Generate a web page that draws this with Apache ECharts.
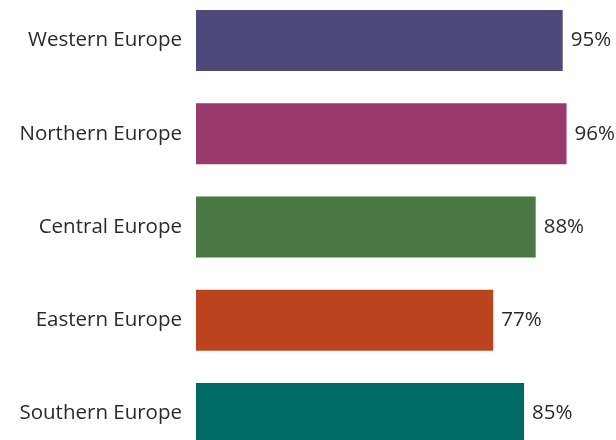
<!DOCTYPE html>
<html>
<head>
<meta charset="utf-8">
<script src="https://cdn.jsdelivr.net/npm/echarts@6/dist/echarts.min.js"></script>
<style>html,body{margin:0;padding:0;background:#fff}#c{width:616px;height:440px}</style>
</head>
<body>
<div id="c"></div>
<script>
const categories = ["Western Europe", "Northern Europe", "Central Europe", "Eastern Europe", "Southern Europe"];
const values = [95, 96, 88, 77, 85];
const colors = ["#4d4a7b", "#9a396d", "#4a7842", "#bb431d", "#006b64"];

const chart = echarts.init(document.getElementById('c'), null, {renderer: 'canvas'});
chart.setOption({
  animation: false,
  grid: {left: 196, top: -6, width: 386, height: 466, outerBoundsMode: 'none', containLabel: false},
  xAxis: {type: 'value', min: 0, max: 100, show: false},
  yAxis: {
    type: 'category', data: categories, inverse: true,
    axisLine: {show: false}, axisTick: {show: false},
    axisLabel: {color: '#2a2a2a', fontFamily: 'Open Sans', fontSize: 20.5, margin: 14}
  },
  series: [{
    type: 'bar',
    barWidth: 61,
    data: values.map((v, i) => ({value: v, itemStyle: {color: colors[i]}})),
    label: {show: true, position: 'right', distance: 8, formatter: '{c}%', color: '#2a2a2a', fontFamily: 'Open Sans', fontSize: 20.5}
  }]
});
</script>
</body>
</html>
